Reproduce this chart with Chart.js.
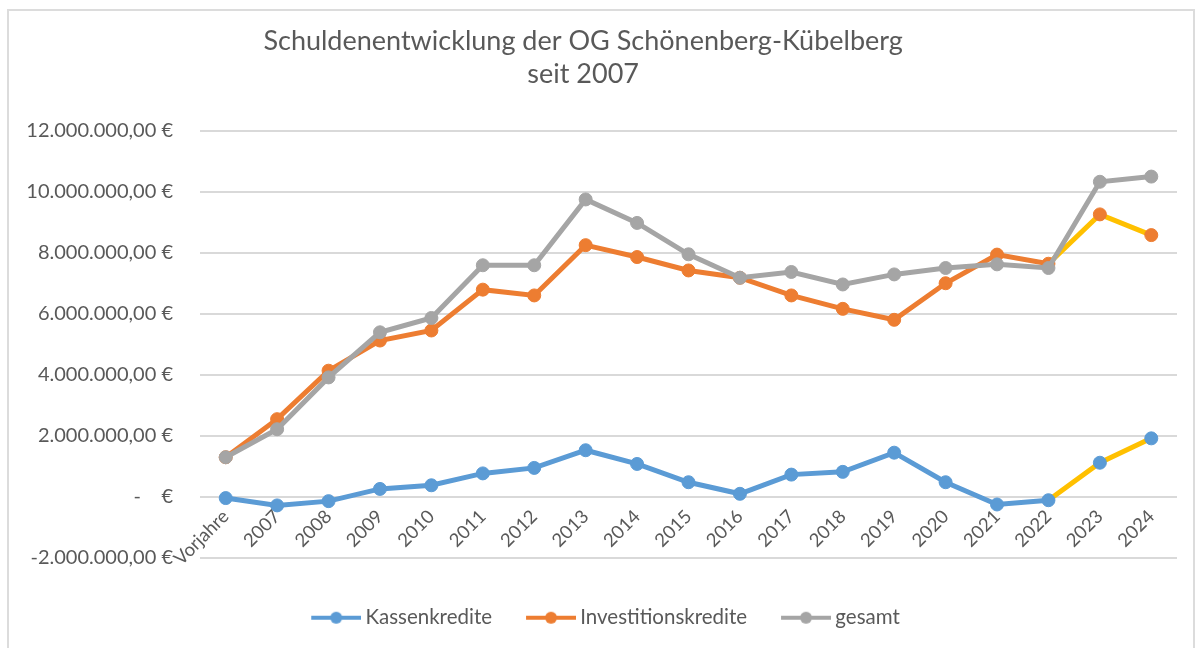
<!DOCTYPE html>
<html>
<head>
<meta charset="utf-8">
<script src="https://cdn.jsdelivr.net/npm/chart.js@4.4.1/dist/chart.umd.min.js"></script>
<style>
  html, body { margin: 0; padding: 0; background: #fff; overflow: hidden; }
  #wrap { position: relative; width: 1201px; height: 648px; }
  #frame { position: absolute; left: 7px; top: 9px; width: 1188px; height: 660px; border: 2px solid #dcdcdc; box-sizing: border-box; }
  canvas { position: absolute; left: 0; top: 0; }
</style>
</head>
<body>
<div id="wrap">
  <div id="frame"></div>
  <canvas id="chart" width="1201" height="648"></canvas>
</div>
<script>
// Werte (Euro)
const labels = ['Vorjahre', '2007', '2008', '2009', '2010', '2011', '2012', '2013', '2014', '2015',
  '2016', '2017', '2018', '2019', '2020', '2021', '2022', '2023', '2024'];
const kassenkredite = [-50000, -290000, -150000, 250000, 370000, 760000, 940000, 1520000, 1070000, 470000,
  90000, 720000, 810000, 1440000, 470000, -260000, -120000, 1110000, 1910000];
const investitionskredite = [1290000, 2540000, 4130000, 5120000, 5450000, 6790000, 6600000, 8250000, 7860000, 7420000,
  7180000, 6600000, 6160000, 5800000, 7000000, 7940000, 7640000, 9260000, 8580000];
const gesamt = [1290000, 2210000, 3910000, 5390000, 5860000, 7590000, 7590000, 9750000, 8980000, 7950000,
  7180000, 7370000, 6960000, 7290000, 7500000, 7620000, 7500000, 10330000, 10500000];
const yTicks = [-2000000, 0, 2000000, 4000000, 6000000, 8000000, 10000000, 12000000];

const BLUE = '#5B9BD5', ORANGE = '#ED7D31', GREY = '#A5A5A5', YELLOW = '#FFC000';
const TXT = '#595959';
const FONT = 'Lato, "Open Sans", sans-serif';

// Planwerte ab 2022 -> 2023 gelb
const planSegment = ctx => ctx.p0DataIndex >= 16 ? YELLOW : undefined;

function euro(v) {
  if (v === 0) return '-    €';
  const s = Math.abs(v).toFixed(0).replace(/\B(?=(\d{3})+(?!\d))/g, '.');
  return (v < 0 ? '-' : '') + s + ',00 €';
}

// Legendensymbol: Linie mit Punkt (links Luft zum vorherigen Eintrag)
function legendIcon(color) {
  const c = document.createElement('canvas');
  c.width = 80; c.height = 16;
  const g = c.getContext('2d');
  g.strokeStyle = color; g.lineWidth = 4;
  g.beginPath(); g.moveTo(30, 8); g.lineTo(80, 8); g.stroke();
  g.fillStyle = color;
  g.beginPath(); g.arc(55, 8, 6, 0, Math.PI * 2); g.fill();
  return c;
}

function series(label, data, color, order, segColor) {
  return {
    label: label,
    data: data,
    borderColor: color,
    backgroundColor: color,
    pointBackgroundColor: color,
    pointBorderColor: color,
    borderWidth: 5,
    pointRadius: 6.5,
    pointBorderWidth: 1,
    tension: 0,
    order: order,
    segment: segColor ? { borderColor: segColor } : undefined
  };
}

new Chart(document.getElementById('chart'), {
  type: 'line',
  data: {
    labels: labels,
    datasets: [
      series('Kassenkredite', kassenkredite, BLUE, 2, planSegment),
      series('Investitionskredite', investitionskredite, ORANGE, 1, planSegment),
      series('gesamt', gesamt, GREY, 0, null)
    ]
  },
  options: {
    responsive: false,
    animation: false,
    layout: { padding: { left: 10, right: 24, top: 0, bottom: 10 } },
    plugins: {
      tooltip: { enabled: false },
      title: {
        display: true,
        // Leerzeichen am Ende rücken den Titel etwas nach links wie im Original
        text: ['Schuldenentwicklung der OG Schönenberg-Kübelberg   ', 'seit 2007   '],
        color: TXT,
        font: { family: FONT, size: 27, weight: 'normal', lineHeight: 1.22 },
        padding: { top: 25, bottom: 40 }
      },
      legend: {
        position: 'bottom',
        title: { display: true, text: '', font: { size: 12, lineHeight: 1 }, padding: { top: 0, bottom: 28 } },
        labels: {
          usePointStyle: true,
          pointStyleWidth: 68,
          padding: 10,
          color: TXT,
          font: { family: FONT, size: 20.5 },
          generateLabels: chart => chart.data.datasets.map((ds, i) => ({
            text: ds.label,
            pointStyle: legendIcon(ds.borderColor),
            fontColor: TXT,
            fillStyle: ds.borderColor,
            strokeStyle: ds.borderColor,
            lineWidth: 0,
            hidden: false,
            datasetIndex: i
          }))
        }
      }
    },
    scales: {
      x: {
        offset: true,
        position: { y: 0 },
        grid: { display: false, drawTicks: false },
        border: { display: false },
        ticks: {
          color: TXT,
          font: { family: FONT, size: 18.5 },
          autoSkip: false,
          minRotation: 45,
          maxRotation: 45,
          padding: 9
        }
      },
      y: {
        min: -2000000,
        max: 12000000,
        afterFit: s => { s.width = 190; },
        afterBuildTicks: s => { s.ticks = yTicks.map(v => ({ value: v })); },
        grid: { color: '#d9d9d9', lineWidth: 2, drawTicks: false },
        border: { display: false },
        ticks: {
          color: TXT,
          font: { family: FONT, size: 20 },
          padding: 27,
          callback: v => euro(v)
        }
      }
    }
  }
});
</script>
</body>
</html>
